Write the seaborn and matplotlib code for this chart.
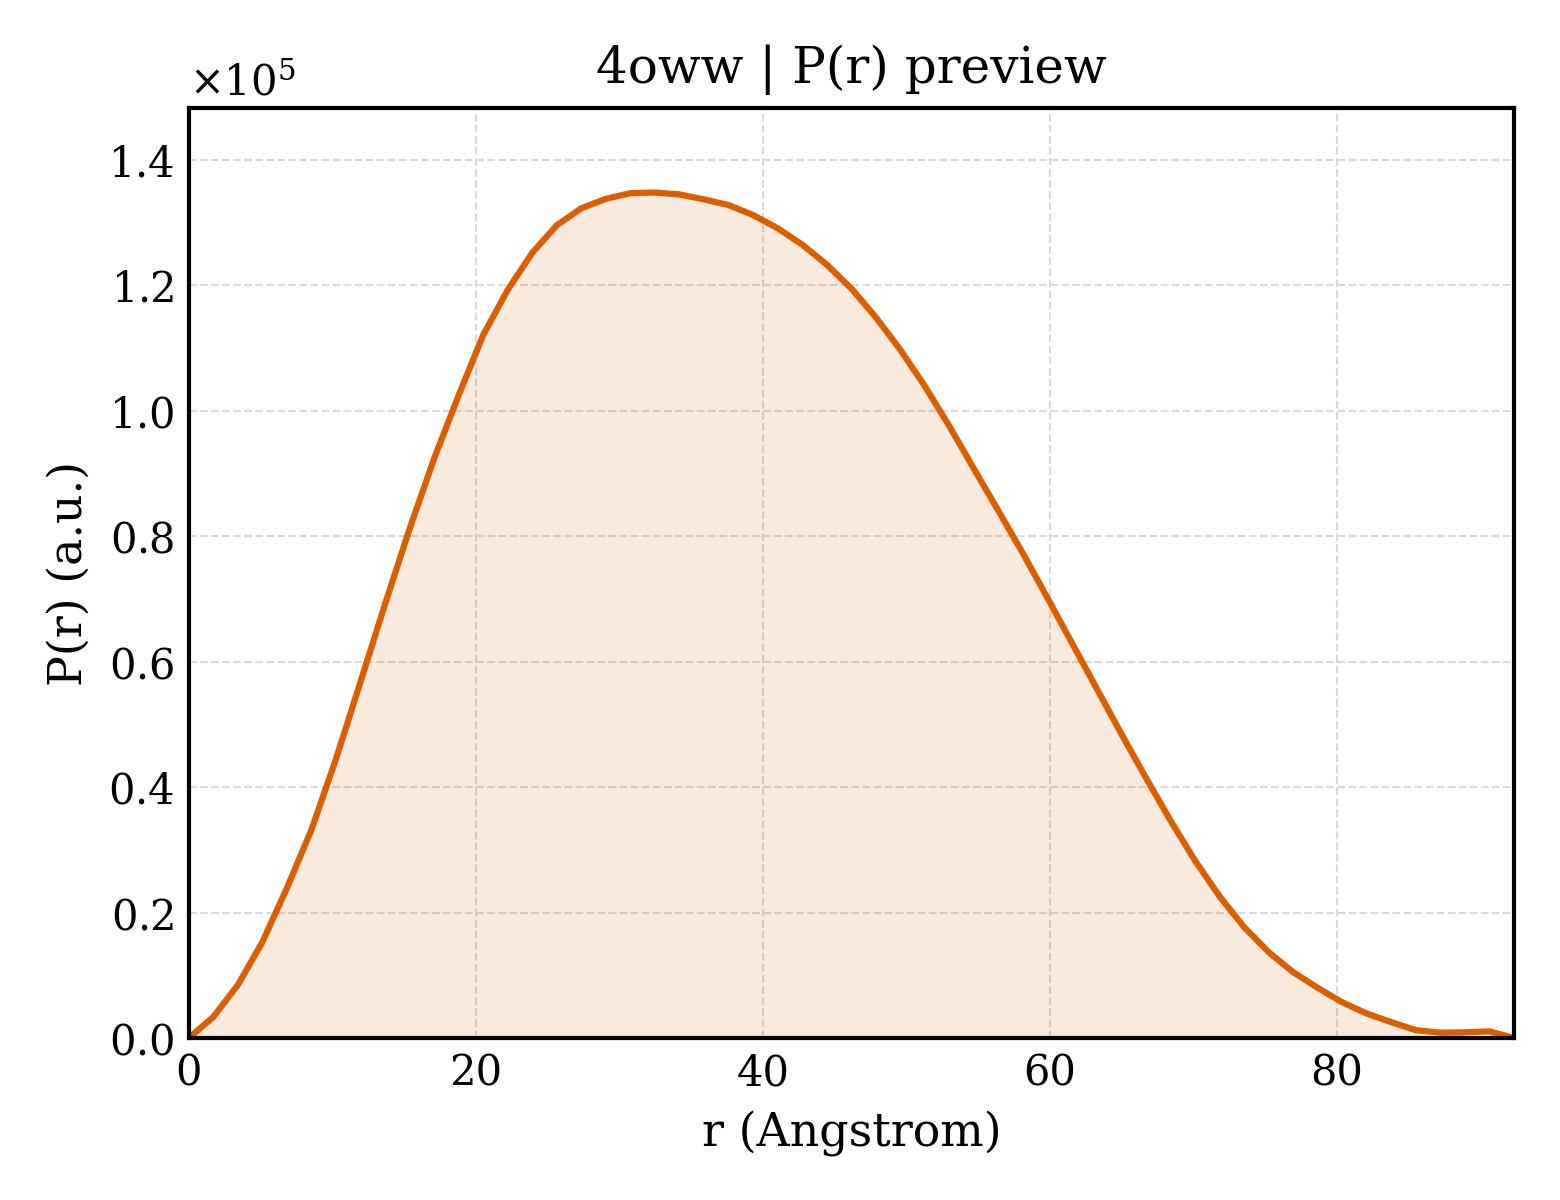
import numpy as np
import pandas as pd
import matplotlib
matplotlib.use("Agg")
import matplotlib.pyplot as plt
import seaborn as sns
from matplotlib.ticker import ScalarFormatter

# ---- data ----
r_max = 92.35
n_points = 55
r = np.linspace(0, r_max, n_points)
pr = [0.0, 3350, 8450, 15300, 23900, 33200, 44500, 56800, 69200, 81200,
      92400, 102500, 112100, 119300, 125200, 129600, 132300, 133800, 134700, 134800,
      134500, 133700, 132800, 131200, 129100, 126500, 123300, 119500, 114900, 109700,
      103900, 97500, 90700, 84000, 77200, 70100, 62900, 55700, 48500, 41500,
      34700, 28300, 22600, 17700, 13700, 10500, 8000, 5700, 3900, 2530,
      1250, 850, 900, 1050, 0.0]
title = "4oww | P(r) preview"
xlabel = "r (Angstrom)"
ylabel = "P(r) (a.u.)"

df = pd.DataFrame({"r": r, "P": pr})

sns.set_theme(style="white")
plt.rcParams["font.family"] = ["DejaVu Serif"]
plt.rcParams["mathtext.fontset"] = "dejavuserif"
plt.rcParams["text.color"] = "black"
plt.rcParams["axes.labelcolor"] = "black"
plt.rcParams["axes.titlecolor"] = "black"

fig, ax = plt.subplots(figsize=(5.2, 4.0), dpi=300)
fig.subplots_adjust(left=0.121, right=0.9705, bottom=0.135, top=0.91)

color = "#d95f02"
ax.fill_between(df["r"], df["P"], 0, color=color, alpha=0.13, linewidth=0)
sns.lineplot(data=df, x="r", y="P", ax=ax, color=color, linewidth=1.5)

ax.set_xlim(0, r_max)
ax.set_ylim(0, max(pr) * 1.1)

fmt = ScalarFormatter(useMathText=True)
fmt.set_powerlimits((0, 0))
ax.yaxis.set_major_formatter(fmt)

ax.set_title(title, fontsize=12, color="black")
ax.set_xlabel(xlabel, fontsize=11, color="black")
ax.set_ylabel(ylabel, fontsize=11, color="black")
ax.tick_params(direction="in", length=4, width=1, labelsize=10, colors="black")
ax.yaxis.get_offset_text().set_fontsize(10)
ax.yaxis.get_offset_text().set_color("black")
ax.grid(True, linestyle="--", linewidth=0.5, color="#d9d9d9")
for s in ax.spines.values():
    s.set_color("black")
    s.set_linewidth(1.0)

fig.savefig("out.png", dpi=300)
